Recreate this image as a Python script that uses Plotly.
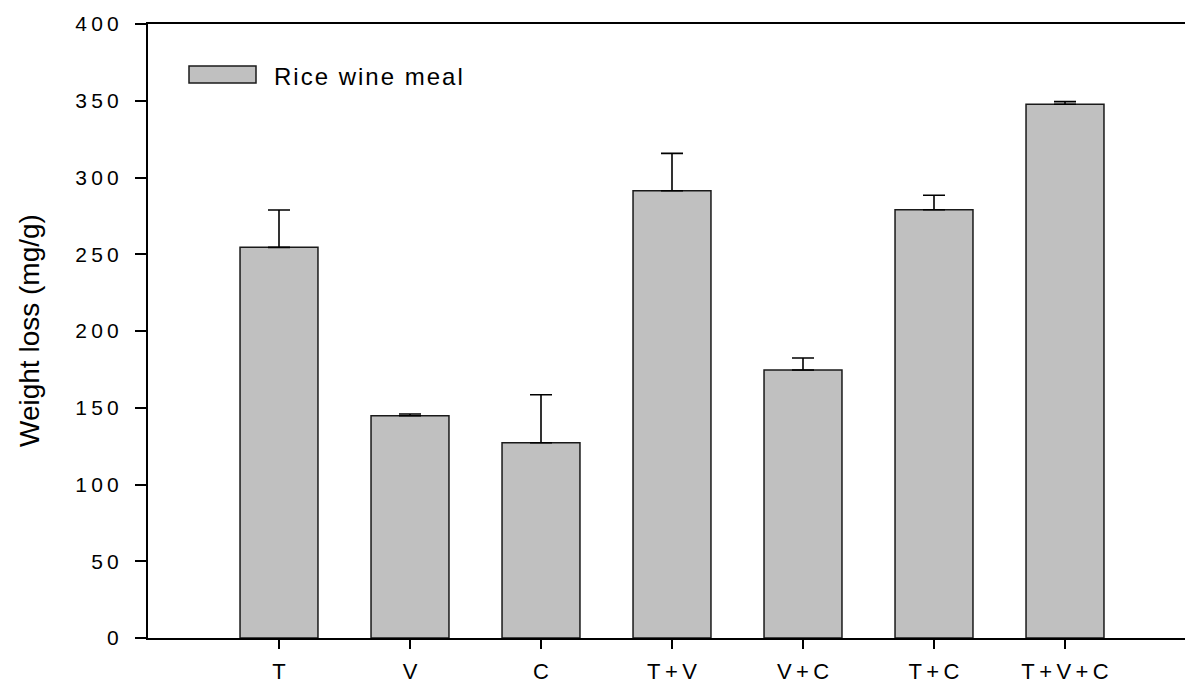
import plotly.graph_objects as go

# Treatment groups and measured weight loss (mean and SD)
categories = ["T", "V", "C", "T+V", "V+C", "T+C", "T+V+C"]
weight_loss = [254.5, 144.8, 127.2, 291.4, 174.6, 279.0, 347.7]
error_sd = [24.3, 1.1, 31.3, 24.3, 7.8, 9.4, 1.7]
y_ticks = [0, 50, 100, 150, 200, 250, 300, 350, 400]
series_name = "Rice wine meal"
y_title = "Weight loss (mg/g)"

THIN = "\u2009"
HAIR = "\u200a"


def spaced(label, gap=THIN):
    # widen the tracking of a label the way the axis lettering is set
    return gap.join(label)


FONT = "Liberation Sans, Arial, sans-serif"
BAR_FILL = "#c0c0c0"

# plot-area geometry in pixels, used to place the legend key and axis title
PLOT_L, PLOT_T, PLOT_W, PLOT_H = 148, 24, 1037, 614


def px_x(x):
    return (x - PLOT_L) / PLOT_W


def px_y(y):
    return (PLOT_T + PLOT_H - y) / PLOT_H


fig = go.Figure()
fig.add_trace(
    go.Bar(
        x=list(range(len(categories))),
        y=weight_loss,
        width=0.595,
        name=series_name,
        marker=dict(color=BAR_FILL, line=dict(color="#1a1a1a", width=1.5)),
        error_y=dict(
            type="data",
            array=error_sd,
            symmetric=False,
            arrayminus=[0] * len(error_sd),
            color="#000000",
            thickness=1.6,
            width=11,
        ),
        showlegend=False,
    )
)

# legend key: grey swatch with the series label beside it
fig.add_shape(
    type="rect",
    xref="paper", yref="paper",
    x0=px_x(189), x1=px_x(256),
    y0=px_y(83), y1=px_y(66),
    fillcolor=BAR_FILL,
    line=dict(color="#1a1a1a", width=1.5),
)
fig.add_annotation(
    xref="paper", yref="paper",
    x=px_x(272), y=px_y(76),
    xanchor="left", yanchor="middle",
    text=spaced(series_name, HAIR),
    showarrow=False,
    font=dict(family=FONT, size=24, color="#000000"),
)

# vertical axis title
fig.add_annotation(
    xref="paper", yref="paper",
    x=px_x(29), y=px_y(331),
    xanchor="center", yanchor="middle",
    textangle=-90,
    text=y_title,
    showarrow=False,
    font=dict(family=FONT, size=28, color="#000000"),
)

fig.update_layout(
    width=1185,
    height=684,
    margin=dict(l=PLOT_L, r=0, t=PLOT_T, b=684 - PLOT_T - PLOT_H),
    paper_bgcolor="#ffffff",
    plot_bgcolor="#ffffff",
    font=dict(family=FONT, size=21, color="#000000"),
)
fig.update_xaxes(
    range=[-1, 6.916],
    tickmode="array",
    tickvals=list(range(len(categories))),
    ticktext=[spaced(c) for c in categories],
    ticks="outside",
    ticklen=9,
    tickwidth=1.5,
    tickcolor="#000000",
    showline=True,
    linecolor="#000000",
    linewidth=2,
    mirror=True,
    showgrid=False,
    zeroline=False,
    tickfont=dict(family=FONT, size=22),
    ticklabelstandoff=4,
)
fig.update_yaxes(
    range=[0, 400],
    tickmode="array",
    tickvals=y_ticks,
    ticktext=[spaced(str(v)) for v in y_ticks],
    ticks="outside",
    ticklen=11,
    tickwidth=1.5,
    tickcolor="#000000",
    showline=True,
    linecolor="#000000",
    linewidth=2,
    showgrid=False,
    zeroline=False,
    tickfont=dict(family=FONT, size=21),
    ticklabelstandoff=12,
)

fig.write_html("out.html")
